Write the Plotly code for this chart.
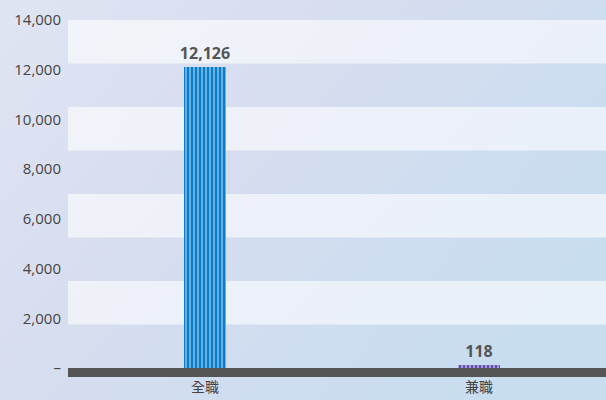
import plotly.graph_objects as go
import base64

categories = ["全職", "兼職"]
values = [12126, 118]
labels = ["12,126", "118"]
bar_colors = ["#0a7cc8", "#6450b0"]
stripe_colors = ["#a6d6f5", "#d4ccf2"]
tick_vals = [0, 2000, 4000, 6000, 8000, 10000, 12000, 14000]
tick_text = ["–", "2,000", "4,000", "6,000", "8,000", "10,000", "12,000", "14,000"]

svg = ('<svg xmlns="http://www.w3.org/2000/svg" width="606" height="400">'
       '<defs><linearGradient id="g" x1="0" y1="0" x2="1" y2="0.6">'
       '<stop offset="0" stop-color="#e0e5f3"/><stop offset="0.45" stop-color="#d6ddef"/>'
       '<stop offset="1" stop-color="#c9ddf1"/></linearGradient></defs>'
       '<rect width="606" height="400" fill="url(#g)"/></svg>')
src = "data:image/svg+xml;base64," + base64.b64encode(svg.encode()).decode()

fig = go.Figure()
for cat, val, lab, col, stripe in zip(categories, values, labels, bar_colors, stripe_colors):
    fig.add_trace(go.Bar(
        x=[cat], y=[val], width=0.153,
        marker=dict(color=col, line=dict(width=0),
                    pattern=dict(shape="|", fgcolor=stripe, bgcolor=col, fillmode="replace",
                                 fgopacity=1, size=4, solidity=0.3)),
        text=[lab], textposition="outside", cliponaxis=False, constraintext="none",
        textfont=dict(family="Open Sans, sans-serif", size=16, color="#555555", weight="bold"),
        hoverinfo="skip",
    ))

shapes = []
step = 1750
for i in range(8):
    if i % 2 == 1:
        shapes.append(dict(type="rect", xref="paper", yref="y", x0=0, x1=1,
                           y0=i * step, y1=(i + 1) * step, line=dict(width=0),
                           fillcolor="rgba(255,255,255,0.6)", layer="below"))
shapes.append(dict(type="rect", xref="paper", yref="y", x0=0, x1=1, y0=-362, y1=0,
                   line=dict(width=0), fillcolor="#555555", layer="above"))

fig.update_layout(
    width=606, height=400,
    margin=dict(l=68, r=0, t=20, b=23, autoexpand=False),
    paper_bgcolor="#d9dfef", plot_bgcolor="rgba(0,0,0,0)",
    images=[dict(source=src, xref="paper", yref="paper", x=-68 / 538, y=1 + 20 / 357,
                 sizex=606 / 538, sizey=400 / 357, sizing="stretch", layer="below",
                 xanchor="left", yanchor="top")],
    shapes=shapes,
    showlegend=False,
    barmode="overlay",
    bargap=0,
    xaxis=dict(range=[-0.5, 1.4635], showgrid=False, zeroline=False, showline=False,
               ticks="", automargin=False, categoryorder="array", categoryarray=categories,
               tickfont=dict(family="Noto Sans CJK TC", size=14, color="#444444")),
    yaxis=dict(range=[-362, 14000], tickvals=tick_vals, ticktext=tick_text,
               showgrid=False, zeroline=False, showline=False, ticks="",
               ticklabelstandoff=6, automargin=False,
               tickfont=dict(family="Open Sans, sans-serif", size=15, color="#444444")),
)

fig.write_html("out.html", config={"displayModeBar": False},
               post_script="document.body.style.margin='0';document.body.style.overflow='hidden';")
